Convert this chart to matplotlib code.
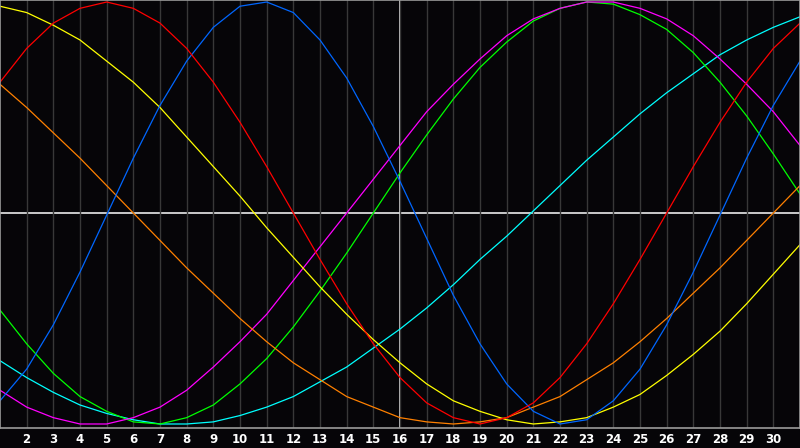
import matplotlib
matplotlib.use('Agg')
import matplotlib.pyplot as plt

# ── DATA (percent of amplitude per day) ───────────────────────────────────────
days = list(range(1, 32))
today = 16

red = [62, 78, 90, 97, 100, 97, 90, 78, 62, 43, 22, 0, -22, -43, -62, -78,
       -90, -97, -100, -97, -90, -78, -62, -43, -22, 0, 22, 43, 62, 78, 90]
blue = [-89, -74, -53, -28, -1, 26, 51, 72, 88, 98, 100, 95, 82, 64, 41, 15,
        -12, -39, -62, -81, -94, -100, -98, -89, -74, -53, -28, -1, 26, 51, 72]
yellow = [98, 95, 89, 82, 72, 62, 50, 36, 22, 8, -7, -21, -35, -48, -60, -71,
          -81, -89, -94, -98, -100, -99, -97, -92, -86, -77, -67, -56, -43, -29, -15]
orange = [61, 50, 38, 26, 13, 0, -13, -26, -38, -50, -61, -71, -79, -87, -92, -97,
          -99, -100, -99, -97, -92, -87, -79, -71, -61, -50, -38, -26, -13, 0, 13]
magenta = [-84, -92, -97, -100, -100, -97, -92, -84, -73, -61, -48, -32, -16, 0, 16, 32,
           48, 61, 73, 84, 92, 97, 100, 100, 97, 92, 84, 73, 61, 48, 32]
green = [-46, -62, -76, -87, -94, -99, -100, -97, -91, -81, -69, -54, -37, -19, 0, 19,
         37, 54, 69, 81, 91, 97, 100, 99, 94, 87, 76, 62, 46, 28, 9]
cyan = [-70, -78, -85, -91, -95, -98, -100, -100, -99, -96, -92, -87, -80, -73, -64, -55,
        -45, -34, -22, -11, 1, 13, 25, 36, 47, 57, 66, 75, 82, 88, 93]

series = [
    (cyan, '#00ffff'),
    (green, '#00ff00'),
    (magenta, '#ff00ff'),
    (orange, '#ff8000'),
    (yellow, '#ffff00'),
    (blue, '#0066ff'),
    (red, '#ff0000'),
]

# ── FIGURE ────────────────────────────────────────────────────────────────────
bg = '#060508'
fig = plt.figure(figsize=(8, 4.48), dpi=100, facecolor=bg)
ax = fig.add_axes([0, 20 / 448, 1, 428 / 448])
ax.set_facecolor(bg)

# day grid + centre lines
ax.grid(axis='x', color='#383838', linewidth=1, zorder=0)
ax.axhline(0, color='white', linewidth=1.1, zorder=1)
ax.axvline(today, color='white', linewidth=1.1, zorder=1)

for vals, col in series:
    ax.plot(days, vals, color=col, linewidth=0.9, zorder=2)

ax.set_xlim(days[0], days[-1])
ax.set_ylim(-101.9, 100.95)

ax.set_xticks(days[1:-1])
ax.set_xticklabels([str(d) for d in days[1:-1]], color='white',
                   fontsize=8.5, fontweight='bold')
for lbl in ax.get_xticklabels():
    lbl.set_x(lbl.get_position()[0])
ax.tick_params(axis='x', length=0, pad=3.5)
ax.set_yticks([])

for side in ['left', 'right', 'top', 'bottom']:
    ax.spines[side].set_color('#9a9a9a')
    ax.spines[side].set_linewidth(1.2)

fig.savefig('out.png', dpi=100, facecolor=bg)
